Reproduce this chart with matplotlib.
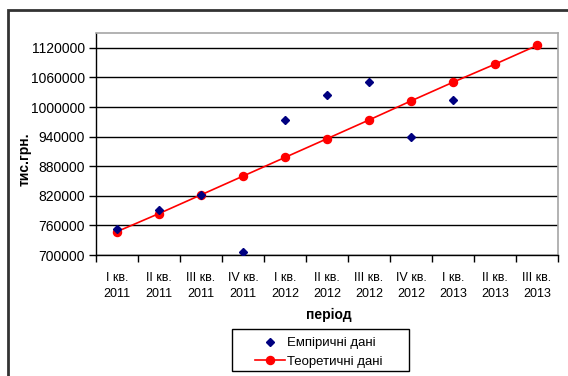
import matplotlib
matplotlib.use("Agg")
import matplotlib.pyplot as plt
from matplotlib.patches import Rectangle

plt.rcParams['font.family'] = ['Liberation Sans', 'DejaVu Sans']

# quarters of the observation / forecast period
periods = ["I кв.\n2011", "II кв.\n2011", "III кв.\n2011", "IV кв.\n2011",
           "I кв.\n2012", "II кв.\n2012", "III кв.\n2012", "IV кв.\n2012",
           "I кв.\n2013", "II кв.\n2013", "III кв.\n2013"]

# observed values, тис.грн. (first nine quarters)
empirical = [752000, 791000, 822000, 707000, 973000, 1024500, 1051600, 939800, 1014300]

# trend line values, тис.грн.
theoretical = [747400, 784000, 821900, 859900, 897800, 935700, 973700,
               1012300, 1050200, 1086800, 1124700]

y_ticks = [700000, 760000, 820000, 880000, 940000, 1000000, 1060000, 1120000]

W, H = 568, 376
fig = plt.figure(figsize=(W / 100, H / 100), dpi=100)
ax = fig.add_axes([96 / W, 1 - 255 / H, (558 - 96) / W, (255 - 33) / H])

x_emp = list(range(len(empirical)))
x_th = list(range(len(theoretical)))

ax.plot(x_th, theoretical, color="#ff0000", lw=1.2, marker="o", ms=5.8,
        mec="#ff0000", mfc="#ff0000", label="Теоретичні дані", zorder=3)
ax.plot(x_emp, empirical, ls="none", marker="D", ms=4.5, color="#000080",
        label="Емпіричні дані", zorder=4)

ax.set_xlim(-0.5, len(periods) - 0.5)
ax.set_ylim(700000, 1150000)
ax.set_yticks(y_ticks)
ax.set_yticklabels([str(v) for v in y_ticks], fontsize=10)
ax.yaxis.grid(True, color="black", lw=1)
ax.set_axisbelow(True)

ax.set_xticks(x_th)
ax.set_xticklabels(periods, fontsize=9, linespacing=1.5)
ax.set_xticks([i - 0.5 for i in range(len(periods) + 1)], minor=True)
ax.tick_params(axis="x", which="major", length=0, pad=12)
ax.tick_params(axis="x", which="minor", length=5, width=1, color="black")
ax.tick_params(axis="y", length=5, width=1, color="black", pad=3)

for side in ("top", "right"):
    ax.spines[side].set_color("#a6a6a6")
    ax.spines[side].set_linewidth(1.2)
for side in ("left", "bottom"):
    ax.spines[side].set_color("black")
    ax.spines[side].set_linewidth(1)

ax.set_ylabel("тис.грн.", fontsize=10, fontweight="bold")
ax.yaxis.label.set_va("center")
ax.yaxis.set_label_coords((25 - 96) / 462, (255 - 159) / 222)
ax.set_xlabel("період", fontsize=10, fontweight="bold")
ax.xaxis.label.set_va("center")
ax.xaxis.set_label_coords(0.505, (255 - 315) / 222)

# legend: entries without a frame, boxed separately
handles, labels = ax.get_legend_handles_labels()
leg = fig.legend(handles[::-1], labels[::-1], loc="upper left",
                 bbox_to_anchor=(255 / W, 1 - 337 / H), borderaxespad=0,
                 frameon=False, fontsize=9.5, handlelength=2.3,
                 handletextpad=0.1, labelspacing=0.5, borderpad=0)
fig.patches.append(Rectangle((232 / W, 1 - 371 / H), (409 - 232) / W, 42 / H,
                             transform=fig.transFigure, fill=False,
                             edgecolor="black", lw=1))

# chart frame
fig.patches.append(Rectangle((8 / W, -0.2), 1.2, 1.2 - 10 / H,
                             transform=fig.transFigure, fill=False,
                             edgecolor="#333333", lw=2))

fig.savefig("out.png", dpi=100)
